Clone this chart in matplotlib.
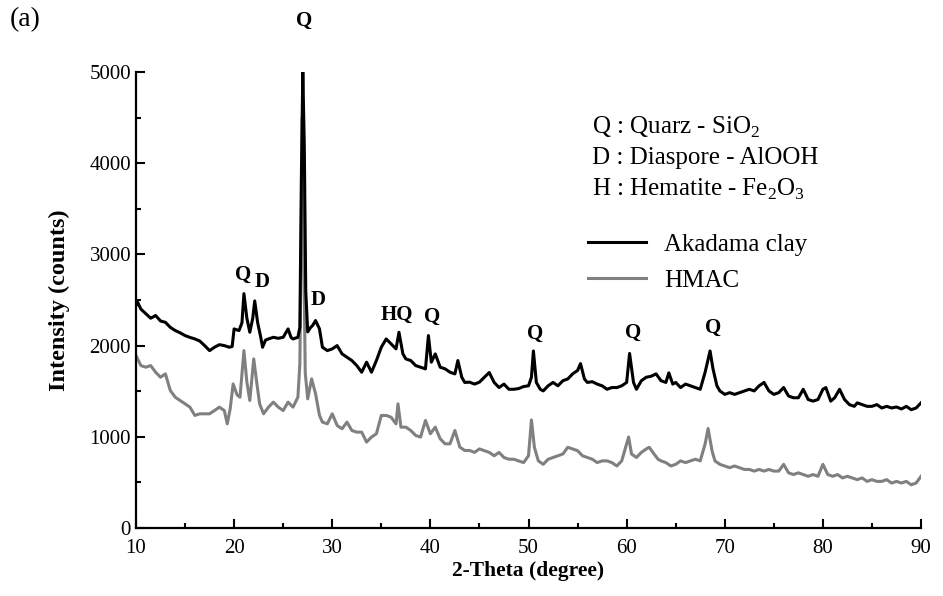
import matplotlib
matplotlib.use("Agg")
import matplotlib.pyplot as plt
from matplotlib.ticker import MultipleLocator

plt.rcParams["font.family"] = ["Liberation Serif", "DejaVu Serif"]
plt.rcParams["mathtext.fontset"] = "custom"
plt.rcParams["mathtext.rm"] = "Liberation Serif"

# Akadama clay (black)
akadama_x = [10.0, 10.15, 10.5, 11.0, 11.5, 12.0, 12.5, 13.0, 13.5, 14.0, 14.5, 15.0, 15.5, 16.0, 16.5,
             17.0, 17.5, 18.0, 18.5, 19.0, 19.5, 19.8, 20.0, 20.5, 20.8, 21.0, 21.3, 21.6, 21.9, 22.1,
             22.4, 22.7, 22.9, 23.2, 23.5, 24.0, 24.5, 25.0, 25.5, 25.8, 26.0, 26.5, 26.7, 26.85, 27.0,
             27.15, 27.3, 27.5, 27.8, 28.0, 28.3, 28.7, 29.0, 29.5, 30.0, 30.5, 31.0, 31.5, 32.0, 32.5,
             33.0, 33.5, 34.0, 34.5, 35.0, 35.5, 36.0, 36.5, 36.8, 37.2, 37.5, 38.0, 38.5, 39.0, 39.5,
             39.8, 40.1, 40.5, 41.0, 41.5, 42.0, 42.5, 42.8, 43.2, 43.5, 44.0, 44.5, 45.0, 45.5, 46.0,
             46.5, 47.0, 47.5, 48.0, 48.5, 49.0, 49.5, 50.0, 50.3, 50.5, 50.8, 51.2, 51.5, 52.0, 52.5,
             53.0, 53.5, 54.0, 54.5, 55.0, 55.3, 55.7, 56.0, 56.5, 57.0, 57.5, 58.0, 58.5, 59.0, 59.5,
             60.0, 60.3, 60.7, 61.0, 61.5, 62.0, 62.5, 63.0, 63.5, 64.0, 64.3, 64.7, 65.0, 65.5, 66.0,
             66.5, 67.0, 67.5, 68.0, 68.5, 68.8, 69.2, 69.5, 70.0, 70.5, 71.0, 71.5, 72.0, 72.5, 73.0,
             73.5, 74.0, 74.5, 75.0, 75.5, 76.0, 76.5, 77.0, 77.5, 78.0, 78.5, 79.0, 79.5, 80.0, 80.3,
             80.8, 81.2, 81.7, 82.2, 82.7, 83.2, 83.5, 84.0, 84.5, 85.0, 85.5, 86.0, 86.5, 87.0, 87.5,
             88.0, 88.5, 89.0, 89.5, 90.0]
akadama_y = [2440, 2480, 2400, 2350, 2300, 2330, 2270, 2255, 2200, 2165, 2140, 2110, 2090, 2073, 2050,
             2000, 1945, 1982, 2010, 2000, 1982, 1990, 2183, 2165, 2250, 2570, 2300, 2146, 2300, 2490,
             2250, 2100, 1982, 2060, 2073, 2091, 2080, 2091, 2183, 2090, 2073, 2091, 2200, 3800, 5000,
             4200, 2600, 2150, 2200, 2220, 2275, 2183, 1982, 1945, 1964, 2000, 1909, 1872, 1836, 1781,
             1708, 1818, 1708, 1836, 1982, 2073, 2018, 1964, 2146, 1909, 1854, 1836, 1781, 1763, 1745,
             2110, 1818, 1909, 1763, 1745, 1708, 1690, 1836, 1653, 1596, 1599, 1578, 1599, 1653, 1705,
             1596, 1540, 1578, 1521, 1521, 1529, 1551, 1559, 1653, 1941, 1596, 1521, 1503, 1559, 1596,
             1559, 1615, 1634, 1690, 1727, 1802, 1634, 1596, 1604, 1578, 1559, 1521, 1540, 1540, 1559,
             1596, 1914, 1596, 1521, 1615, 1653, 1664, 1690, 1615, 1596, 1701, 1578, 1596, 1540, 1578,
             1559, 1540, 1521, 1709, 1941, 1746, 1559, 1503, 1465, 1484, 1465, 1484, 1503, 1521, 1503,
             1559, 1596, 1503, 1465, 1484, 1540, 1447, 1428, 1428, 1521, 1409, 1391, 1409, 1521, 1540,
             1391, 1428, 1521, 1409, 1353, 1334, 1372, 1353, 1334, 1334, 1353, 1316, 1334, 1316, 1327,
             1305, 1334, 1297, 1316, 1372]

# HMAC (grey)
hmac_x = [10.0, 10.5, 11.0, 11.5, 12.0, 12.5, 13.0, 13.5, 14.0, 14.5, 15.0, 15.5, 16.0, 16.5, 17.0,
          17.5, 18.0, 18.5, 19.0, 19.3, 19.6, 19.9, 20.3, 20.6, 21.0, 21.3, 21.6, 22.0, 22.3, 22.6,
          23.0, 23.5, 24.0, 24.5, 25.0, 25.5, 26.0, 26.5, 26.7, 26.85, 26.95, 27.1, 27.25, 27.5, 27.9,
          28.3, 28.7, 29.0, 29.5, 30.0, 30.5, 31.0, 31.5, 32.0, 32.5, 33.0, 33.5, 34.0, 34.5, 35.0,
          35.5, 36.0, 36.5, 36.7, 37.0, 37.5, 38.0, 38.5, 39.0, 39.5, 40.0, 40.5, 41.0, 41.5, 42.0,
          42.5, 43.0, 43.5, 44.0, 44.5, 45.0, 45.5, 46.0, 46.5, 47.0, 47.5, 48.0, 48.5, 49.0, 49.5,
          50.0, 50.3, 50.6, 51.0, 51.5, 52.0, 52.5, 53.0, 53.5, 54.0, 54.5, 55.0, 55.5, 56.0, 56.5,
          57.0, 57.5, 58.0, 58.5, 59.0, 59.5, 60.0, 60.2, 60.5, 61.0, 61.5, 62.0, 62.3, 62.8, 63.2,
          63.5, 64.0, 64.5, 65.0, 65.5, 66.0, 66.5, 67.0, 67.5, 68.0, 68.3, 68.7, 69.0, 69.5, 70.0,
          70.5, 71.0, 71.5, 72.0, 72.5, 73.0, 73.5, 74.0, 74.5, 75.0, 75.5, 76.0, 76.5, 77.0, 77.5,
          78.0, 78.5, 79.0, 79.5, 80.0, 80.5, 81.0, 81.5, 82.0, 82.5, 83.0, 83.5, 84.0, 84.5, 85.0,
          85.5, 86.0, 86.5, 87.0, 87.5, 88.0, 88.5, 89.0, 89.5, 90.0]
hmac_y = [1891, 1781, 1763, 1781, 1708, 1653, 1690, 1507, 1434, 1398, 1361, 1325, 1234, 1252, 1252,
          1252, 1288, 1325, 1288, 1142, 1307, 1580, 1460, 1434, 1945, 1600, 1398, 1854, 1600, 1361,
          1252, 1325, 1380, 1325, 1288, 1380, 1325, 1434, 1800, 3300, 4500, 3000, 1700, 1416, 1635,
          1471, 1234, 1161, 1142, 1252, 1124, 1088, 1161, 1069, 1051, 1051, 942, 997, 1033, 1234,
          1234, 1215, 1142, 1361, 1106, 1106, 1069, 1015, 997, 1179, 1033, 1106, 978, 923, 923,
          1069, 887, 850, 850, 829, 867, 848, 829, 792, 829, 773, 754, 754, 736, 717,
          792, 1185, 885, 736, 698, 754, 773, 792, 811, 885, 867, 848, 792, 773, 754,
          717, 736, 736, 717, 680, 736, 923, 998, 811, 773, 829, 867, 885, 811, 754,
          736, 717, 680, 698, 736, 717, 736, 754, 736, 923, 1091, 848, 736, 698, 680,
          661, 680, 661, 642, 642, 624, 642, 624, 642, 624, 624, 698, 605, 586, 605,
          586, 567, 586, 567, 698, 586, 567, 586, 549, 567, 549, 530, 549, 511, 530,
          511, 511, 530, 493, 511, 493, 511, 474, 493, 567]

# peak labels: (text, 2-theta, intensity)
peak_labels = [("Q", 27.1, 5560), ("Q", 20.9, 2780), ("D", 22.9, 2700), ("D", 28.6, 2500),
               ("HQ", 36.6, 2340), ("Q", 40.2, 2320), ("Q", 50.7, 2130), ("Q", 60.7, 2140),
               ("Q", 68.8, 2190)]

phase_lines = ["Q : Quarz - SiO$_2$", "D : Diaspore - AlOOH", "H : Hematite - Fe$_2$O$_3$"]

fig = plt.figure(figsize=(9.43, 5.96), dpi=100)
ax = fig.add_axes([0.1442, 0.1141, 0.8325, 0.7651])

ax.plot(hmac_x, hmac_y, color="#808080", lw=2.2, label="HMAC")
ax.plot(akadama_x, akadama_y, color="black", lw=2.2, label="Akadama clay")

for txt, px, py in peak_labels:
    ax.text(px, py, txt, ha="center", va="center", fontsize=15, fontweight="bold", clip_on=False)

ax.set_xlim(10, 90)
ax.set_ylim(0, 5000)
ax.xaxis.set_major_locator(MultipleLocator(10))
ax.xaxis.set_minor_locator(MultipleLocator(5))
ax.yaxis.set_major_locator(MultipleLocator(1000))
ax.yaxis.set_minor_locator(MultipleLocator(500))
ax.tick_params(which="both", direction="in", width=1.5, labelsize=15)
ax.tick_params(which="major", length=6.5)
ax.tick_params(which="minor", length=3.5)
ax.tick_params(axis="x", pad=8)
for s in ["top", "right"]:
    ax.spines[s].set_visible(False)
for s in ["left", "bottom"]:
    ax.spines[s].set_linewidth(1.6)

ax.set_xlabel("2-Theta (degree)", fontsize=15.5, fontweight="bold", labelpad=2)
ax.set_ylabel("Intensity (counts)", fontsize=17.5, fontweight="bold", labelpad=14)

for i, line in enumerate(phase_lines):
    fig.text(592 / 943, 1 - (127 + 31 * i) / 596, line, fontsize=18, va="center", ha="left")

handles, labels = ax.get_legend_handles_labels()
ax.legend(handles[::-1], labels[::-1], loc="upper left", bbox_to_anchor=(588 / 943, 1 - 233 / 596),
          bbox_transform=fig.transFigure, frameon=False, fontsize=18, handlelength=2.3,
          handletextpad=0.75, labelspacing=0.55, borderaxespad=0, borderpad=0)

fig.text(10 / 943, 1 - 20 / 596, "(a)", fontsize=20, va="center", ha="left")

fig.savefig("out.png", dpi=100)
